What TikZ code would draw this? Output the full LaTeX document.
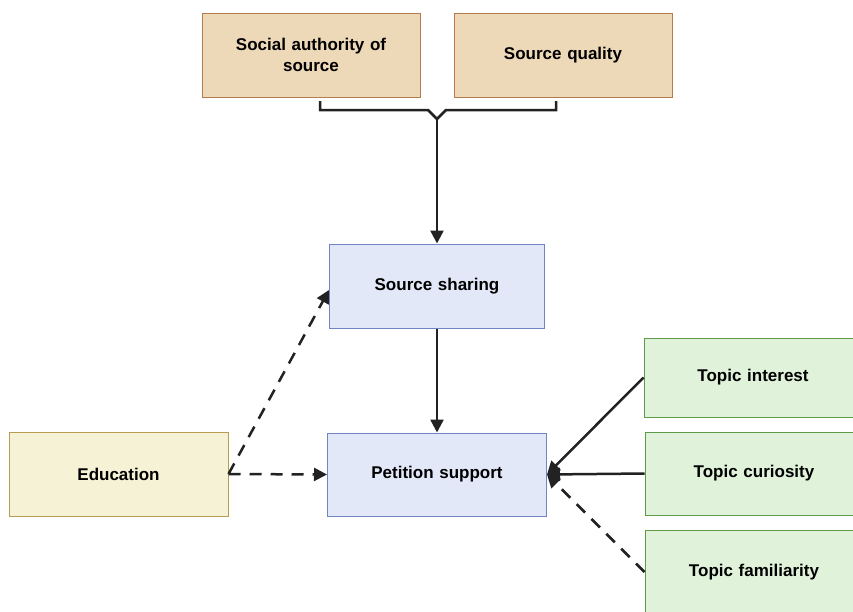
\documentclass[tikz,border=0pt]{standalone}
\usepackage{fontspec}
\setmainfont{Liberation Sans}
\usetikzlibrary{arrows.meta}
\definecolor{tanfill}{HTML}{EDD8B8}
\definecolor{tandraw}{HTML}{B47B4C}
\definecolor{bluefill}{HTML}{E3E8F8}
\definecolor{bluedraw}{HTML}{7185C6}
\definecolor{yelfill}{HTML}{F5F2D6}
\definecolor{yeldraw}{HTML}{B79C52}
\definecolor{grnfill}{HTML}{E0F3DA}
\definecolor{grndraw}{HTML}{5F9A49}
\definecolor{linec}{HTML}{222222}
\tikzset{
  box/.style={draw,line width=1pt,minimum width=218pt,minimum height=84pt,align=center,
    font=\fontsize{17}{21.5}\selectfont\bfseries,text width=205pt,inner sep=0pt},
  link/.style={linec,line width=2.5pt,-{Triangle[length=13pt,width=13pt]}},
  dlink/.style={link,dash pattern=on 12pt off 9pt}
}
\begin{document}
\begin{tikzpicture}[x=1pt,y=-1pt]
  \useasboundingbox[fill=white] (0,0) rectangle (853,611);
  % top factors
  \node[box,fill=tanfill,draw=tandraw] (sa) at (311,55) {Social authority of\\source};
  \node[box,fill=tanfill,draw=tandraw] (sq) at (563,55) {Source quality};
  % middle
  \node[box,fill=bluefill,draw=bluedraw,minimum width=215pt] (ss) at (437,286) {Source sharing};
  \node[box,fill=bluefill,draw=bluedraw,minimum width=219pt,minimum height=83pt] (ps) at (437,474.5) {Petition support};
  \node[box,fill=yelfill,draw=yeldraw,minimum width=219pt] (ed) at (118.5,474) {Education};
  % topic factors
  \node[box,fill=grnfill,draw=grndraw,minimum height=79pt] (ti) at (753,377.5) {Topic interest};
  \node[box,fill=grnfill,draw=grndraw,minimum height=83pt] (tc) at (754,473.5) {Topic curiosity};
  \node[box,fill=grnfill,draw=grndraw] (tf) at (754,572) {Topic familiarity};
  % brace
  \coordinate (bl) at (320,101);
  \coordinate (br) at (556,101);
  \coordinate (bt) at (437,119);
  \draw[linec,line width=2.5pt] (bl)--(320,110)--(428,110)--(bt)--(446,110)--(556,110)--(br);
  \draw[link] (bt)--(ss.north);
  \draw[link] (ss.south)--(ps.north);
  \draw[dlink] (ed.east)--(ps.west);
  \draw[dlink] (ed.east)--(329,290);
  \draw[link] (ti.west)--(ps.east);
  \draw[link] (tc.west)--(ps.east);
  \draw[dlink] (tf.west)--(ps.east);
\end{tikzpicture}
\end{document}
